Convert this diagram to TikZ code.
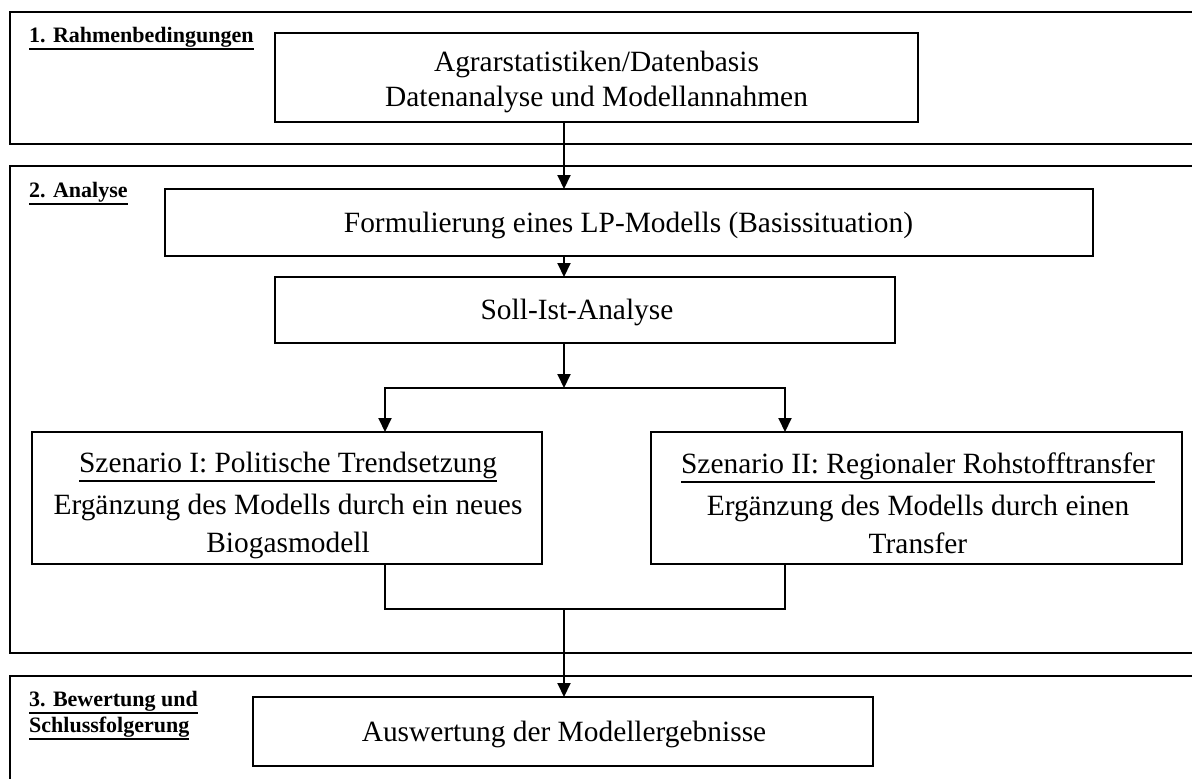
\documentclass[tikz,border=0pt]{standalone}
\usepackage{fontspec}
\setmainfont{Liberation Serif}
\usetikzlibrary{arrows.meta}
\newcommand\lblul[1]{\leavevmode\vtop{\hbox{#1}\kern1.6pt\hrule height 1.9pt}}
\newcommand\ttlul[1]{\leavevmode\vtop{\hbox{#1}\kern2pt\hrule height 1.2pt}}
\tikzset{
  frame/.style={draw, line width=2.4pt},
  boxn/.style={draw, line width=2pt, inner sep=0pt, outer sep=0pt},
  txt/.style={font=\fontsize{29.4}{36}\selectfont, inner sep=0pt, anchor=base},
  lbl/.style={font=\fontsize{22}{26}\selectfont\bfseries, inner sep=0pt, anchor=base west},
  conn/.style={line width=2pt},
  arr/.style={conn, -{Triangle[width=13pt,length=14pt]}}
}
\begin{document}
\begin{tikzpicture}[x=1pt,y=-1pt]
\useasboundingbox (0,0) rectangle (1192,779);
\fill[white] (0,0) rectangle (1192,779);
\clip (0,0) rectangle (1192,779);
% frames
\draw[frame] (10,12) rectangle (1215,144);
\draw[frame] (10,166) rectangle (1215,653);
\draw[frame] (10,676) rectangle (1215,800);
% labels
\node[lbl] (l1) at (29,42) {\lblul{1. Rahmenbedingungen}};
\node[lbl] (l2) at (29,197) {\lblul{2. Analyse}};
\node[lbl] (l3a) at (29,706) {\lblul{3. Bewertung und}};
\node[lbl] (l3b) at (29,732) {\lblul{Schlussfolgerung}};
% boxes
\node[boxn, minimum width=643pt, minimum height=89pt] (top) at (596.5,77.5) {};
\node[boxn, minimum width=928pt, minimum height=67pt] (form) at (629,222.5) {};
\node[boxn, minimum width=620pt, minimum height=66pt] (soll) at (585,310) {};
\node[boxn, minimum width=510pt, minimum height=132pt] (sz1) at (287,498) {};
\node[boxn, minimum width=531pt, minimum height=132pt] (sz2) at (916.5,498) {};
\node[boxn, minimum width=620pt, minimum height=69pt] (ausw) at (563,731.5) {};
% texts
\node[txt] (ta1) at (596.5,71) {Agrarstatistiken/Datenbasis};
\node[txt] (ta2) at (596.5,106) {Datenanalyse und Modellannahmen};
\node[txt] (tf) at (628.5,232) {Formulierung eines LP-Modells (Basissituation)};
\node[txt] (ts) at (577,319) {Soll-Ist-Analyse};
\node[txt] (t11) at (288,472) {\ttlul{Szenario I: Politische Trendsetzung}};
\node[txt] (t12) at (288,514) {Ergänzung des Modells durch ein neues};
\node[txt] (t13) at (288,552) {Biogasmodell};
\node[txt] (t21) at (918,473) {\ttlul{Szenario II: Regionaler Rohstofftransfer}};
\node[txt] (t22) at (918,515) {Ergänzung des Modells durch einen};
\node[txt] (t23) at (918,553) {Transfer};
\node[txt] (tw) at (564,741) {Auswertung der Modellergebnisse};
% connector coordinates
\coordinate (ax) at (564,0);
\coordinate (cl) at (385,0);
\coordinate (cr) at (785,0);
\coordinate (split) at (564,388);
\coordinate (jn) at (564,609);
% connectors
\draw[arr] (top.south -| ax) -- (form.north -| ax);
\draw[arr] (form.south -| ax) -- (soll.north -| ax);
\draw[arr] (soll.south -| ax) -- (split);
\draw[arr] (split) -- (split -| cl) -- (sz1.north -| cl);
\draw[arr] (split) -- (split -| cr) -- (sz2.north -| cr);
\draw[conn] (sz1.south -| cl) -- (jn -| cl) -- (jn -| cr) -- (sz2.south -| cr);
\draw[arr] (jn) -- (ausw.north -| jn);
\end{tikzpicture}
\end{document}
